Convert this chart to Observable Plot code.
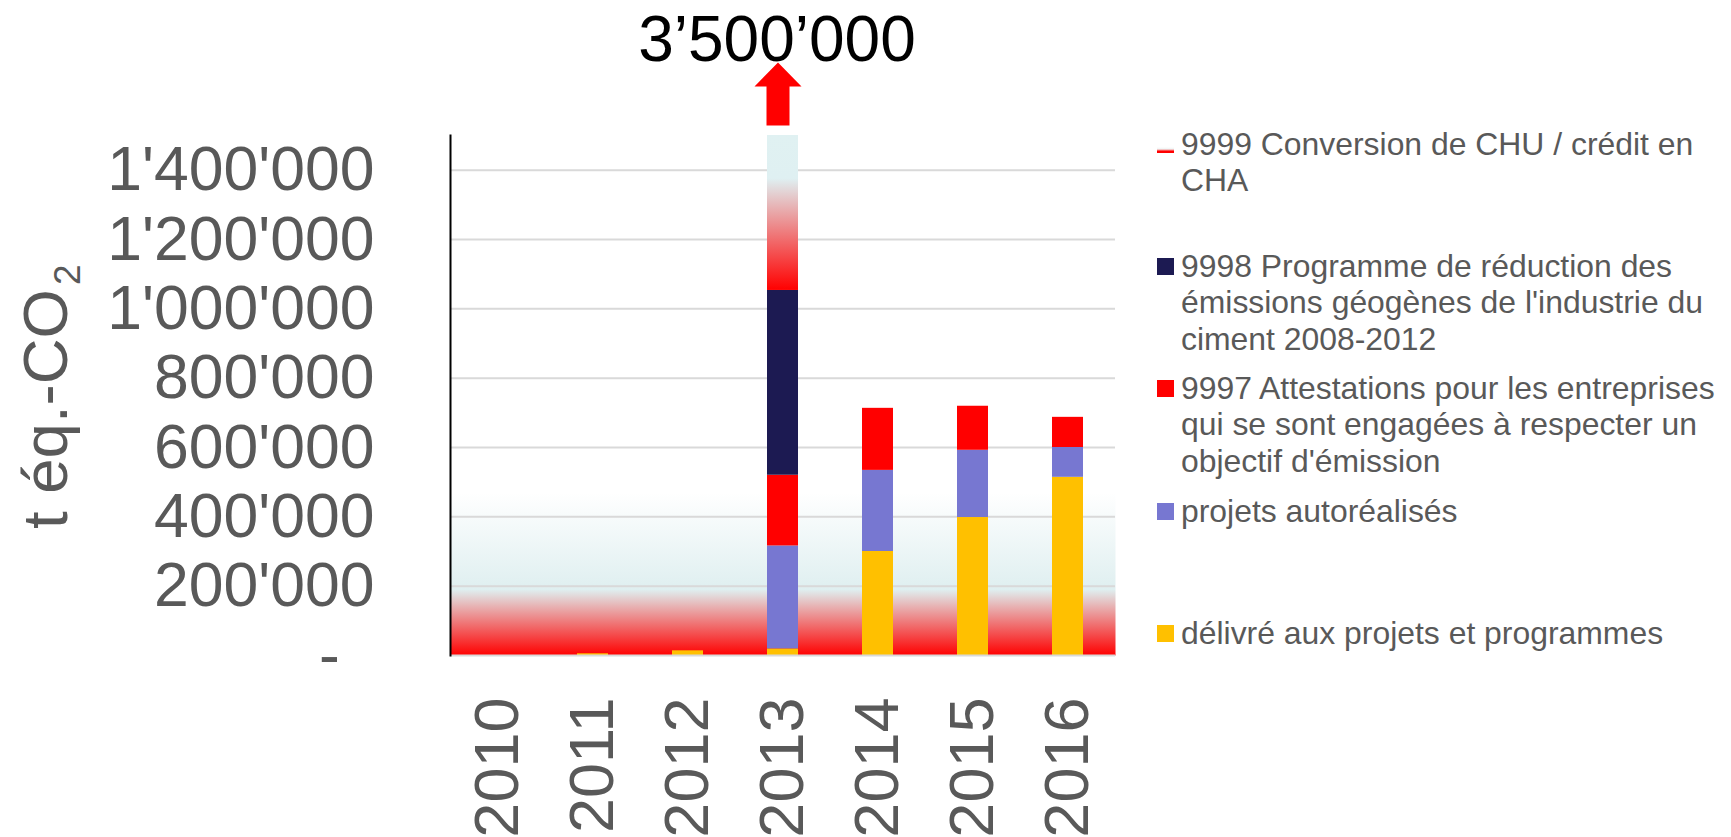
<!DOCTYPE html>
<html><head><meta charset="utf-8">
<script src="https://cdn.jsdelivr.net/npm/d3@7"></script>
<script src="https://cdn.jsdelivr.net/npm/@observablehq/plot@0.6"></script>
<style>
html,body{margin:0;padding:0;background:#fff;overflow:hidden}
#wrap{position:relative;width:1731px;height:837px;font-family:"Liberation Sans",Arial,sans-serif}
#chart{position:absolute;left:0;top:0}
#legend{position:absolute;left:1157px;top:0;color:#595959;font-size:31.9px;line-height:36.5px}
.item{position:absolute;left:0;white-space:nowrap}
.sw{position:absolute;left:0;width:17px;height:17px;top:10px}
.tx{position:absolute;left:24px;top:0}
</style></head><body><div id="wrap"><div id="chart"></div><div id="legend"></div></div>
<script>
// ---- data ----
const years = ["2010", "2011", "2012", "2013", "2014", "2015", "2016"];
const seriesNames = [
  "délivré aux projets et programmes",
  "projets autoréalisés",
  "9997 Attestations pour les entreprises qui se sont engagées à respecter un objectif d'émission",
  "9998 Programme de réduction des émissions géogènes de l'industrie du ciment 2008-2012",
  "9999 Conversion de CHU / crédit en CHA"
];
const delivered    = [0, 5000, 13500, 19000, 300000, 398000, 514000];
const selfRealized = [0, 0, 0, 297000, 234000, 194000, 86000];
const attest9997   = [0, 0, 0, 204000, 179000, 127000, 87000];
const prog9998     = [0, 0, 0, 533000, 0, 0, 0];
const conv9999     = [0, 0, 0, 2447000, 0, 0, 0];
const seriesValues = [delivered, selfRealized, attest9997, prog9998, conv9999];
const yTicks = [0, 200000, 400000, 600000, 800000, 1000000, 1200000, 1400000];
const totalLabel = "3’500’000";
const annotatedYear = "2013";
const yLabelMain = "t éq.-CO";
const yLabelSub = "2";
// legend, top to bottom, with its line breaks
const legendLines = [
  ["9999 Conversion de CHU / crédit en", "CHA"],
  ["9998 Programme de réduction des", "émissions géogènes de l'industrie du", "ciment 2008-2012"],
  ["9997 Attestations pour les entreprises", "qui se sont engagées à respecter un", "objectif d'émission"],
  ["projets autoréalisés"],
  ["délivré aux projets et programmes"]
];
const legendSeriesIndex = [4, 3, 2, 1, 0];

// ---- styles ----
const seriesColors = ["#ffc000", "#7777d1", "#ff0000", "#1c1a52", "url(#grad9999)"];
const bgStops = [{v: 0, c: "#ff0000"}, {v: 190000, c: "#dfeff0"}, {v: 470000, c: "#ffffff"}];
const g9999Stops = [{v: 1053000, c: "#ff0000"}, {v: 1375000, c: "#dff0f2"}, {v: 1500000, c: "#e0f1f2"}];
const legendTops = [125.75, 247.75, 369.75, 492.75, 614.75];
const Y_MAX = 1500000;

const rows = [];
seriesNames.forEach((s, si) => years.forEach((yr, i) => {
  const v = seriesValues[si][i];
  if (v > 0) rows.push({year: yr, series: s, value: v});
}));

const fmt = d => d === 0 ? "-\u00a0\u00a0" : d3.format(",")(d).replace(/,/g, "'");

const fatArrow = {
  draw(context, l) {
    const hw = 23.5, sw = 11.5, hl = 24;
    context.moveTo(-sw, 0);
    context.lineTo(-sw, -(l - hl));
    context.lineTo(-hw, -(l - hl));
    context.lineTo(0, -l);
    context.lineTo(hw, -(l - hl));
    context.lineTo(sw, -(l - hl));
    context.lineTo(sw, 0);
    context.closePath();
  }
};

const plot = Plot.plot({
  width: 1731, height: 837,
  marginLeft: 450, marginRight: 616, marginTop: 135, marginBottom: 182,
  style: {fontFamily: "'Liberation Sans', Arial, sans-serif", background: "transparent", overflow: "visible"},
  x: {domain: years, paddingInner: 0.67, paddingOuter: 0.335, label: null},
  y: {domain: [0, Y_MAX], clamp: true, label: null},
  color: {domain: seriesNames, range: seriesColors},
  marks: [
    Plot.frame({fill: "url(#gradBg)", stroke: "none"}),
    Plot.gridY(yTicks.filter(d => d > 0), {stroke: "#d9d9d9", strokeWidth: 2, strokeOpacity: 1}),
    Plot.barY(rows, {x: "year", y: "value", fill: "series"}),
    Plot.ruleY([0], {stroke: "#d9d9d9", strokeWidth: 2}),
    Plot.frame({anchor: "left", stroke: "#000", strokeWidth: 2}),
    Plot.axisY({ticks: yTicks, tickSize: 0, tickPadding: 76, tickFormat: fmt, fontSize: 62.5, color: "#595959", label: null}),
    Plot.axisX({tickSize: 0, tickRotate: -90, tickPadding: 42, fontSize: 63, color: "#595959", label: null}),
    Plot.vector([annotatedYear], {x: d => d, y: Y_MAX, length: 63, anchor: "start", shape: fatArrow, fill: "#ff0000", stroke: "none", dy: -10, dx: -5}),
    Plot.text([annotatedYear], {x: d => d, y: Y_MAX, text: () => totalLabel, fontSize: 64, fill: "#000", dy: -95, dx: -6})
  ]
});

const svg = d3.select(plot);
const ys = plot.scale("y");
const defs = svg.insert("defs", ":first-child");
function addGrad(id, stops) {
  const a = stops[0].v, b = stops[stops.length - 1].v;
  const g = defs.append("linearGradient").attr("id", id)
    .attr("gradientUnits", "userSpaceOnUse")
    .attr("x1", 0).attr("x2", 0)
    .attr("y1", ys.apply(a)).attr("y2", ys.apply(b));
  stops.forEach(s => g.append("stop").attr("offset", (s.v - a) / (b - a)).attr("stop-color", s.c));
}
addGrad("gradBg", bgStops);
addGrad("grad9999", g9999Stops);

const yl = svg.append("text")
  .attr("transform", "translate(67,529) rotate(-90)")
  .attr("text-anchor", "start")
  .attr("fill", "#595959").attr("font-size", 63.5)
  .attr("font-family", "'Liberation Sans', Arial, sans-serif");
yl.append("tspan").text(yLabelMain);
yl.append("tspan").attr("dx", 4).attr("dy", 13).attr("font-size", 37).text(yLabelSub);

document.getElementById("chart").appendChild(plot);

const legend = d3.select("#legend");
legendLines.forEach((lines, k) => {
  const si = legendSeriesIndex[k];
  const item = legend.append("div").attr("class", "item").style("top", legendTops[k] + "px");
  const sw = item.append("div").attr("class", "sw");
  if (si === 4) {
    sw.style("height", "6px").style("top", "21px")
      .style("background", "linear-gradient(to top, #ff0000 0%, #ff0000 30%, #eef4f4 65%, #ffffff 100%)");
  } else {
    sw.style("background", seriesColors[si]);
  }
  const tx = item.append("div").attr("class", "tx");
  lines.forEach((ln, j) => { if (j) tx.append("br"); tx.append("span").text(ln); });
});
</script></body></html>
